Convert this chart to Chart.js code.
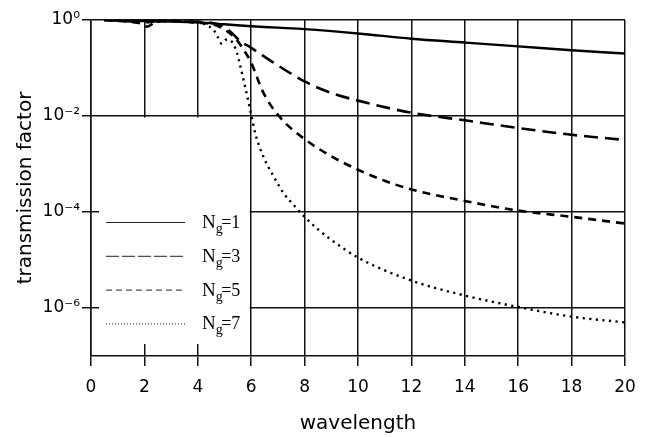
<!DOCTYPE html>
<html>
<head>
<meta charset="utf-8">
<script src="https://cdn.jsdelivr.net/npm/chart.js@4"></script>
<style>
  html, body { margin: 0; padding: 0; background: #fff; }
  #wrap { width: 648px; height: 437px; }
</style>
</head>
<body>
<div id="wrap"><canvas id="chart" width="648" height="437"></canvas></div>
<script>
// ── data ──
const xTicks = [0, 2, 4, 6, 8, 10, 12, 14, 16, 18, 20];
const yTickValues = [1, 1e-2, 1e-4, 1e-6];
const yTickLabels = ['10⁰', '10⁻²', '10⁻⁴', '10⁻⁶'];
const seriesNames = ['1', '3', '5', '7'];

const xN1 = [0.5, 1, 2, 3, 4, 5, 6, 7, 8, 10, 12, 14, 16, 18, 20];
const yN1 = [1, 0.977, 0.955, 0.933, 0.891, 0.813, 0.741, 0.692, 0.646, 0.525, 0.407, 0.339, 0.282, 0.234, 0.200];

const xN3 = [0.5, 1, 1.5, 2, 2.5, 3, 3.5, 4, 4.5, 5, 5.3, 5.59, 6, 6.84, 8, 9, 10, 12, 14, 16, 18, 20];
const yN3 = [1, 0.977, 0.933, 0.891, 0.955, 0.977, 0.955, 0.912, 0.871, 0.708, 0.52, 0.363, 0.263, 0.129,
  0.0525, 0.0302, 0.0209, 0.0117, 0.00813, 0.00562, 0.00407, 0.00316];

const xN5 = [0.5, 1, 1.5, 2, 2.1, 2.4, 3, 3.5, 4, 4.5, 5, 5.4, 5.72, 6, 6.46, 7.1, 8, 9, 10, 11, 12, 14, 16, 18, 20];
const yN5 = [1, 0.955, 0.912, 0.794, 0.724, 0.891, 0.955, 0.933, 0.871, 0.832, 0.631, 0.417, 0.240, 0.129,
  0.0302, 0.00912, 0.00331, 0.00145, 7.59e-4, 4.47e-4, 2.95e-4, 1.70e-4, 1.07e-4, 7.94e-5, 5.75e-5];

const xN7 = [0.5, 1, 1.5, 2, 2.5, 3, 3.5, 4, 4.3, 4.62, 4.75, 4.89, 5.05, 5.2, 5.34, 5.47, 5.58, 5.78,
  6.0, 6.15, 6.46, 6.84, 7.22, 7.6, 8, 8.5, 9, 10, 12, 14, 16, 18, 20];
const yN7 = [1, 0.977, 0.933, 0.955, 0.912, 0.955, 0.933, 0.891, 0.794, 0.589, 0.437, 0.324, 0.389, 0.380,
  0.309, 0.204, 0.117, 0.0389, 0.0107, 0.00437, 0.00141, 5.50e-4, 2.45e-4, 1.38e-4, 7.94e-5, 4.37e-5,
  2.63e-5, 1.12e-5, 3.72e-6, 1.82e-6, 1.05e-6, 6.61e-7, 5.01e-7];

const pts = (xs, ys) => xs.map((x, i) => ({ x, y: ys[i] }));

// dash styles: curve dash / legend dash
const styles = [
  { dash: [], width: 2.4, legDash: [] },
  { dash: [14, 7], width: 2.6, legDash: [13, 3] },
  { dash: [8, 6], width: 2.6, legDash: [6, 4] },
  { dash: [2.2, 4.4], width: 2.4, legDash: [1, 2] },
];

const sans = 'DejaVu Sans';

// white out the gridlines behind the legend and draw the legend itself
const legendBox = {
  id: 'legendBox',
  beforeDatasetsDraw(chart) {
    const { ctx, scales: { x, y } } = chart;
    const l = x.getPixelForValue(0) + 8, r = x.getPixelForValue(6) - 1.5;
    const t = y.getPixelForValue(1e-2) + 1.5, b = chart.chartArea.bottom - 12;
    ctx.save();
    ctx.fillStyle = '#fff';
    ctx.fillRect(l, t, r - l, b - t);
    ctx.restore();
  },
  afterDatasetsDraw(chart) {
    const { ctx, scales: { x } } = chart;
    const x0 = x.getPixelForValue(0) + 15, x1 = x0 + 79, tx = x0 + 96;
    let ly = 222;
    ctx.save();
    seriesNames.forEach((n, i) => {
      ctx.strokeStyle = '#222';
      ctx.lineWidth = 1;
      ctx.setLineDash(styles[i].legDash);
      ctx.beginPath();
      ctx.moveTo(x0, ly + 0.5);
      ctx.lineTo(x1, ly + 0.5);
      ctx.stroke();
      ctx.fillStyle = '#000';
      ctx.textBaseline = 'alphabetic';
      let cx = tx;
      ctx.font = '19px "Liberation Serif"';
      ctx.fillText('N', cx, ly + 6);
      cx += ctx.measureText('N').width;
      ctx.font = '14px "Liberation Serif"';
      ctx.fillText('g', cx, ly + 11);
      cx += ctx.measureText('g').width - 1.5;
      ctx.font = '18px "Liberation Serif"';
      ctx.fillText('=' + n, cx, ly + 6);
      ly += 33.8;
    });
    ctx.restore();
  }
};

new Chart(document.getElementById('chart'), {
  type: 'line',
  data: {
    datasets: [
      { data: pts(xN1, yN1) },
      { data: pts(xN3, yN3) },
      { data: pts(xN5, yN5) },
      { data: pts(xN7, yN7) },
    ].map((d, i) => ({
      ...d,
      label: 'N_g=' + seriesNames[i],
      borderColor: '#000',
      borderWidth: styles[i].width,
      borderDash: styles[i].dash,
      pointRadius: 0,
      fill: false,
      cubicInterpolationMode: 'monotone',
    }))
  },
  options: {
    responsive: false,
    animation: false,
    layout: { padding: { top: 20, right: 23, left: 0, bottom: 0 } },
    plugins: { legend: { display: false }, tooltip: { enabled: false } },
    scales: {
      x: {
        type: 'linear', min: 0, max: 20,
        afterBuildTicks: s => { s.ticks = xTicks.map(v => ({ value: v })); },
        afterFit: s => { s.height = 81; },
        grid: { color: '#111', lineWidth: 1.5, tickLength: 10 },
        border: { color: '#111', width: 1.5 },
        ticks: { color: '#000', padding: 11, maxRotation: 0, font: { family: sans, size: 17 } },
        title: { display: true, text: 'wavelength', color: '#000', padding: { top: 0, bottom: 1 },
          font: { family: sans, size: 20 } }
      },
      y: {
        type: 'logarithmic', min: 1e-7, max: 1,
        afterBuildTicks: s => { s.ticks = yTickValues.map(v => ({ value: v })); },
        afterFit: s => { s.width = 91; },
        grid: { color: '#111', lineWidth: 1.5, tickLength: 9 },
        border: { color: '#111', width: 1.5 },
        ticks: {
          color: '#000', padding: 2, font: { family: sans, size: 17 },
          callback: v => yTickLabels[yTickValues.indexOf(v)] ?? ''
        },
        title: { display: true, text: 'transmission factor', color: '#000', padding: { top: 14, bottom: 0 },
          font: { family: sans, size: 20 } }
      }
    }
  },
  plugins: [legendBox]
});
</script>
</body>
</html>
